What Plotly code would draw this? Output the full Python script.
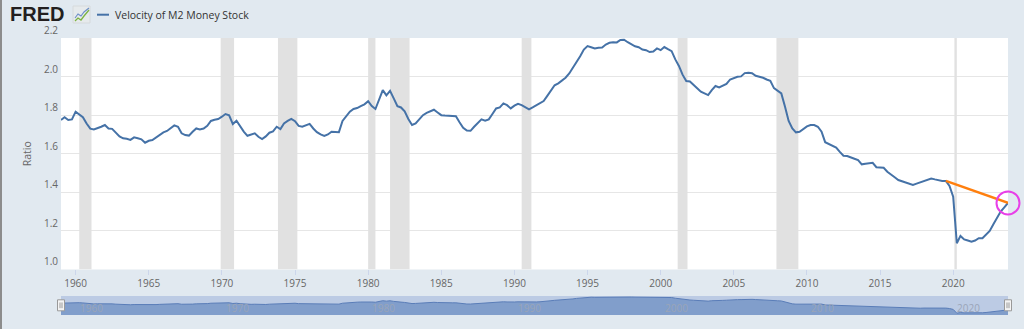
import pandas as pd
import plotly.graph_objects as go

# ---------------- data ----------------
start_date = "1959-01-01"
m2v_1959_1969 = [1.775, 1.789, 1.775, 1.778, 1.818, 1.804, 1.789, 1.757, 1.730, 1.726, 1.732, 1.740,
                 1.749, 1.731, 1.729, 1.710, 1.690, 1.680, 1.678, 1.672, 1.685, 1.680, 1.675, 1.657,
                 1.667, 1.671, 1.683, 1.698, 1.711, 1.718, 1.731, 1.747, 1.740, 1.706, 1.697, 1.694,
                 1.714, 1.731, 1.726, 1.731, 1.745, 1.770, 1.776, 1.780]
m2v_1970_1979 = [1.792, 1.806, 1.799, 1.754, 1.771, 1.740, 1.715, 1.693, 1.700, 1.706, 1.688, 1.676,
                 1.690, 1.709, 1.716, 1.740, 1.728, 1.757, 1.770, 1.781, 1.769, 1.744, 1.740, 1.748,
                 1.755, 1.731, 1.712, 1.700, 1.692, 1.700, 1.714, 1.713, 1.712, 1.770, 1.797, 1.818,
                 1.832, 1.837, 1.847, 1.856]
m2v_1980_1989 = [1.872, 1.847, 1.832, 1.882, 1.930, 1.903, 1.926, 1.887, 1.847, 1.840, 1.820, 1.780,
                 1.749, 1.757, 1.780, 1.800, 1.812, 1.820, 1.828, 1.814, 1.800, 1.798, 1.797, 1.796,
                 1.795, 1.763, 1.735, 1.720, 1.719, 1.740, 1.760, 1.778, 1.771, 1.778, 1.806, 1.835,
                 1.840, 1.861, 1.852, 1.835]
m2v_1990_1999 = [1.849, 1.859, 1.852, 1.840, 1.830, 1.840, 1.852, 1.862, 1.873, 1.900, 1.930, 1.955,
                 1.965, 1.980, 1.994, 2.016, 2.045, 2.077, 2.105, 2.140, 2.158, 2.152, 2.146, 2.150,
                 2.151, 2.166, 2.175, 2.178, 2.177, 2.190, 2.191, 2.178, 2.165, 2.157, 2.152, 2.140,
                 2.137, 2.127, 2.130, 2.146]
m2v_2000_2009 = [2.137, 2.153, 2.142, 2.132, 2.089, 2.055, 2.010, 1.977, 1.975, 1.960, 1.940, 1.922,
                 1.913, 1.904, 1.930, 1.951, 1.944, 1.951, 1.962, 1.985, 1.993, 1.999, 2.001, 2.018,
                 2.020, 2.017, 2.004, 1.999, 1.994, 1.985, 1.978, 1.940, 1.926, 1.913, 1.845, 1.770,
                 1.731, 1.711, 1.714, 1.728]
m2v_2010_2023 = [1.742, 1.749, 1.749, 1.740, 1.714, 1.660, 1.652, 1.640, 1.632, 1.610, 1.590, 1.588,
                 1.579, 1.574, 1.567, 1.545, 1.548, 1.550, 1.553, 1.530, 1.530, 1.527, 1.507, 1.490,
                 1.478, 1.464, 1.458, 1.452, 1.445, 1.438, 1.445, 1.452, 1.462, 1.467, 1.472, 1.467,
                 1.462, 1.459, 1.459, 1.433, 1.377, 1.136, 1.174, 1.156, 1.150, 1.144, 1.150, 1.162,
                 1.162, 1.180, 1.200, 1.235, 1.265, 1.300, 1.322, 1.345]

m2v = m2v_1959_1969 + m2v_1970_1979 + m2v_1980_1989 + m2v_1990_1999 + m2v_2000_2009 + m2v_2010_2023
dates = pd.date_range(start_date, periods=len(m2v), freq="QS")

trend_start_date = "2019-07-01"   # orange segment starts here, ends at last observation

rec_start = ["1960-04-01", "1969-12-01", "1973-11-01", "1980-01-01", "1981-07-01",
             "1990-07-01", "2001-03-01", "2007-12-01", "2020-02-01"]
rec_end = ["1961-02-01", "1970-11-01", "1975-03-01", "1980-07-01", "1982-11-01",
           "1991-03-01", "2001-11-01", "2009-06-01", "2020-04-01"]

x_tick_years = list(range(1960, 2021, 5))
nav_label_years = list(range(1960, 2021, 10))
y_ticks = [1.0, 1.2, 1.4, 1.6, 1.8, 2.0, 2.2]
y_range = [1.0, 2.2]

series_name = "Velocity of M2 Money Stock"
y_title = "Ratio"

# ---------------- styling ----------------
BG = "#e1e9f0"
BLUE = "#4572a7"
FONT = "Open Sans"

fig = go.Figure()

# main series
fig.add_trace(go.Scatter(x=dates, y=m2v, mode="lines", name=series_name,
                         line=dict(color=BLUE, width=2), xaxis="x", yaxis="y",
                         hoverinfo="x+y"))

# orange segment
i0 = list(dates).index(pd.Timestamp(trend_start_date))
fig.add_trace(go.Scatter(x=[dates[i0], dates[-1]], y=[m2v[i0], m2v[-1]], mode="lines",
                         line=dict(color="#ff7f0e", width=2.5), xaxis="x", yaxis="y",
                         cliponaxis=False))

# magenta circle around last point
fig.add_trace(go.Scatter(x=[dates[-1]], y=[m2v[-1]], mode="markers",
                         marker=dict(symbol="circle-open", size=23,
                                     line=dict(color="#e83fe8", width=2), color="#e83fe8"),
                         xaxis="x", yaxis="y", cliponaxis=False))

# navigator series
fig.add_trace(go.Scatter(x=dates, y=m2v, mode="lines", fill="tozeroy",
                         fillcolor="#819ecb", line=dict(color="#5a7db8", width=1),
                         xaxis="x2", yaxis="y2", hoverinfo="skip"))

shapes = []
# recession bars (drawn between grid and data)
for s, e in zip(rec_start, rec_end):
    shapes.append(dict(type="rect", xref="x", yref="y", x0=s, x1=e, y0=y_range[0], y1=y_range[1],
                       fillcolor="#e1e1e1", line=dict(width=0), layer="between"))

# navigator band
shapes.append(dict(type="rect", xref="x2 domain", yref="y2 domain", x0=0, x1=1, y0=0, y1=1,
                   fillcolor="#bccbe4", line=dict(width=0), layer="below"))

# navigator handles
for anchor in (0, 1):
    shapes.append(dict(type="rect", xref="x2 domain", yref="y2 domain", xsizemode="pixel",
                       xanchor=anchor, x0=-3.5, x1=3.5, y0=0.22, y1=0.80,
                       fillcolor="#f4f4f4", line=dict(color="#999999", width=1), layer="above"))
    for dx in (-1, 1):
        shapes.append(dict(type="line", xref="x2 domain", yref="y2 domain", xsizemode="pixel",
                           xanchor=anchor, x0=dx, x1=dx, y0=0.36, y1=0.66,
                           line=dict(color="#999999", width=1), layer="above"))

# left page border
shapes.append(dict(type="line", xref="paper", yref="paper", xsizemode="pixel", xanchor=0,
                   x0=-60, x1=-60, y0=-0.2, y1=1.2, line=dict(color="#8c8c8c", width=2)))

# legend line segment
shapes.append(dict(type="line", xref="paper", yref="paper", xsizemode="pixel", ysizemode="pixel",
                   xanchor=0, yanchor=1, x0=36, x1=48, y0=23.3, y1=23.3,
                   line=dict(color=BLUE, width=2)))

# FRED icon (small chart glyph)
shapes.append(dict(type="rect", xref="paper", yref="paper", xsizemode="pixel", ysizemode="pixel",
                   xanchor=0, yanchor=1, x0=12, x1=29, y0=15, y1=32,
                   fillcolor="#e6eaec", line=dict(color="#d6dadc", width=1)))
shapes.append(dict(type="path", xref="paper", yref="paper", xsizemode="pixel", ysizemode="pixel",
                   xanchor=0, yanchor=1, path="M14,17 L17,20 L20,18 L23,22 L28,28",
                   line=dict(color="#7cb342", width=1.3)))
shapes.append(dict(type="path", xref="paper", yref="paper", xsizemode="pixel", ysizemode="pixel",
                   xanchor=0, yanchor=1, path="M14,20 L17,24 L20,22 L23,26 L28,30",
                   line=dict(color="#6d8fc7", width=1.1)))

annotations = [
    dict(text="<b>FRED</b>", xref="paper", yref="paper", x=0, y=1, xanchor="left",
         yanchor="middle", xshift=-53, yshift=24, showarrow=False,
         font=dict(family="Liberation Sans", size=20, color="#231f20")),
    dict(text=series_name, xref="paper", yref="paper", x=0, y=1, xanchor="left",
         yanchor="middle", xshift=52, yshift=23.5, showarrow=False,
         font=dict(family=FONT, size=10.5, color="#333333")),
]
for yr in nav_label_years:
    annotations.append(dict(text=str(yr), xref="x2", yref="y2 domain", x=f"{yr}-01-01", y=0.35,
                            xanchor="left", yanchor="middle", xshift=2, showarrow=False,
                            font=dict(family=FONT, size=10, color="#9aa5b8")))

fig.update_layout(
    width=1024, height=329,
    margin=dict(l=61, r=16, t=38, b=14),
    paper_bgcolor=BG, plot_bgcolor="white",
    showlegend=False,
    font=dict(family=FONT, size=10, color="#666666"),
    shapes=shapes, annotations=annotations,
    xaxis=dict(anchor="y", domain=[0, 1], type="date",
               range=[dates[0], dates[-1]],
               tickvals=[f"{y}-01-01" for y in x_tick_years],
               ticktext=[str(y) for y in x_tick_years],
               ticks="outside", ticklen=5, tickcolor="#ccd6eb",
               showgrid=False, zeroline=False, showline=False,
               tickfont=dict(family=FONT, size=10, color="#666666")),
    yaxis=dict(anchor="x", domain=[0.1643, 1], range=y_range,
               tickvals=y_ticks, ticktext=[f"{v:.1f}" for v in y_ticks],
               showgrid=True, gridcolor="#e6e6e6", gridwidth=1, zeroline=False,
               ticks="outside", ticklen=10, tickcolor="rgba(0,0,0,0)",
               ticklabelposition="outside top",
               tickfont=dict(family=FONT, size=10, color="#666666"),
               title=dict(text=y_title, standoff=10,
                          font=dict(family=FONT, size=10.5, color="#666666"))),
    xaxis2=dict(anchor="y2", domain=[0, 1], type="date", matches="x",
                showticklabels=False, showgrid=False, zeroline=False, ticks=""),
    yaxis2=dict(anchor="x2", domain=[0, 0.0686], range=[1.02, 2.23],
                showticklabels=False, showgrid=False, zeroline=False, ticks=""),
)

fig.write_html("out.html")
